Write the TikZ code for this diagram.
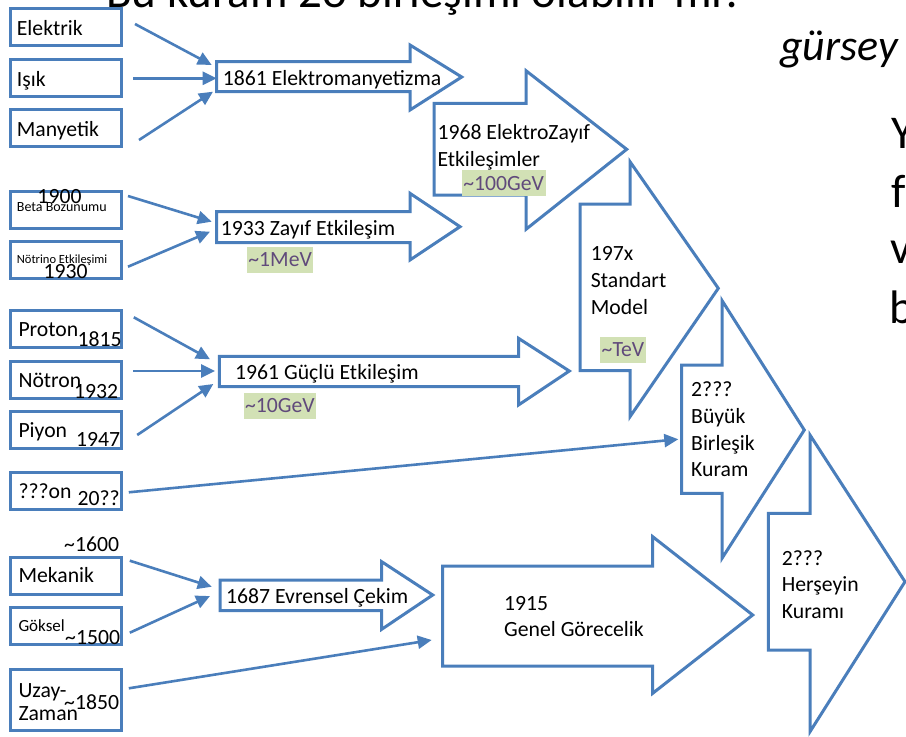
\documentclass[tikz,border=0pt]{standalone}
\usepackage{fontspec}
\setmainfont{Carlito}
\usetikzlibrary{arrows.meta}

\definecolor{lineblue}{HTML}{4A7EBB}
\definecolor{hlgreen}{HTML}{D2E1B5}
\definecolor{hltext}{HTML}{604A7B}

\newcommand{\lbl}{\fontsize{21.7pt}{26pt}\selectfont}
% name, left, top, bottom, head base, head top, head bottom, tip x, tip y
\newcommand{\bigarrow}[9]{%
  \draw[blk] (#2,#3) -- (#5,#3) -- (#5,#6) -- (#8,#9) -- (#5,#7) -- (#5,#4) -- (#2,#4) -- cycle;
  \coordinate (#1) at (#2,{(#3+#4)/2});}

\begin{document}
\begin{tikzpicture}[x=1pt, y=-1pt,
    srcbox/.style={draw=lineblue, line width=3pt, fill=white, minimum width=111pt,
      minimum height=37pt, inner sep=0pt, outer sep=0pt},
    conn/.style={draw=lineblue, line width=2.6pt, -{Triangle[length=14pt,width=13pt]}},
    blk/.style={draw=lineblue, line width=3pt, fill=white},
    txt/.style={anchor=base west, inner sep=0pt, font=\lbl},
    hl/.style={anchor=base west, fill=hlgreen, text=hltext, inner xsep=1.5pt,
      inner ysep=0pt, text height=20pt, text depth=6pt, font=\lbl}]
    \useasboundingbox (0,0) rectangle (906,737);

    % slide text, cut by the frame
    \begin{scope}
        \clip (0,0) rectangle (906,737);
        \node[anchor=base west, inner sep=0pt, font=\fontsize{47pt}{56pt}\selectfont] (title) at (106,7.5) {Bu kuram 2o birleşimi olabilir mi?};
        \node[anchor=base west, inner sep=0pt, font=\fontsize{44pt}{52pt}\selectfont\itshape] (gursey) at (780,60) {gürsey};
        \node[anchor=base west, inner sep=0pt, font=\fontsize{47pt}{56pt}\selectfont] (side1) at (891,148) {Y};
        \node[anchor=base west, inner sep=0pt, font=\fontsize{47pt}{56pt}\selectfont] (side2) at (891,207) {f};
        \node[anchor=base west, inner sep=0pt, font=\fontsize{47pt}{56pt}\selectfont] (side3) at (890,263) {v};
        \node[anchor=base west, inner sep=0pt, font=\fontsize{47pt}{56pt}\selectfont] (side4) at (889,323) {b};
    \end{scope}

    % block arrows
    \bigarrow{em}{216.7}{61.7}{91.7}{410}{45}{110}{461.7}{77}
    \bigarrow{weak}{216.7}{211.7}{242.7}{410}{193.3}{260}{460}{226.7}
    \bigarrow{strong}{219.3}{356.3}{386.7}{518.5}{338.3}{405}{569.3}{371}
    \bigarrow{grav}{220}{580}{610.7}{381.7}{561.7}{629.3}{432.7}{595}
    \bigarrow{ew}{434}{103.3}{195}{526}{70.7}{229.3}{626.7}{149.3}
    \bigarrow{sm}{580}{204}{370.7}{630}{161.7}{416.7}{718.3}{288.3}
    \bigarrow{gut}{681.7}{365}{493.3}{722}{300.5}{558.3}{804.3}{430}
    \bigarrow{gr}{442.7}{566}{666}{652.7}{536.7}{693.3}{752.7}{615}
    \bigarrow{toe}{768.3}{513.3}{650}{810}{435}{731.7}{905}{581.7}

    \node[txt] (t-em) at (222.7,85) {1861 Elektromanyetizma};
    \node[txt] (t-weak) at (220.7,235) {1933 Zayıf Etkileşim};
    \node[txt] (t-strong) at (235,379.3) {1961 Güçlü Etkileşim};
    \node[txt] (t-grav) at (226,603.3) {1687 Evrensel Çekim};
    \node[txt] (t-ew1) at (437.3,139.3) {1968 ElektroZayıf};
    \node[txt] (t-ew2) at (437.3,166.7) {Etkileşimler};
    \node[txt] (t-sm1) at (590.7,260.7) {197x};
    \node[txt] (t-sm2) at (590.7,287.3) {Standart};
    \node[txt] (t-sm3) at (590.7,314.3) {Model};
    \node[txt] (t-gut1) at (691,396.7) {2???};
    \node[txt] (t-gut2) at (691,423.3) {Büyük};
    \node[txt] (t-gut3) at (691,450) {Birleşik};
    \node[txt] (t-gut4) at (691,476.7) {Kuram};
    \node[txt] (t-toe1) at (781.7,565) {2???};
    \node[txt] (t-toe2) at (781.7,591.7) {Herşeyin};
    \node[txt] (t-toe3) at (781.7,618.3) {Kuramı};
    \node[txt] (t-gr1) at (504,610) {1915};
    \node[txt] (t-gr2) at (504,636.7) {Genel Görecelik};

    \node[hl] (e-ew) at (461.7,190) {\textasciitilde 100GeV};
    \node[hl] (e-weak) at (246.7,266.7) {\textasciitilde 1MeV};
    \node[hl] (e-sm) at (600,356.7) {\textasciitilde TeV};
    \node[hl] (e-strong) at (243.3,412.7) {\textasciitilde 10GeV};

    % left boxes
    \node[srcbox] (elektrik) at (65.5,27.3) {};
    \node[srcbox] (isik) at (65.5,78.3) {};
    \node[srcbox] (manyetik) at (65.5,128) {};
    \node[srcbox] (beta) at (65.5,210) {};
    \node[srcbox] (notrino) at (65.5,260) {};
    \node[srcbox] (proton) at (66,329.2) {};
    \node[srcbox] (notron) at (66,379.7) {};
    \node[srcbox] (piyon) at (66,430.3) {};
    \node[srcbox] (qon) at (66,491.3) {};
    \node[srcbox] (mekanik) at (66,575.5) {};
    \node[srcbox] (goksel) at (66,625.5) {};
    \node[srcbox, minimum height=60.4pt] (uzay) at (66,700) {};

    \node[txt] (l-elektrik) at (16.7,35.7) {Elektrik};
    \node[txt] (l-isik) at (16.7,86) {Işık};
    \node[txt] (l-manyetik) at (16.7,136.7) {Manyetik};
    \node[txt] (y-beta) at (37.3,203) {1900};
    \node[txt, font=\fontsize{14pt}{16pt}\selectfont] (l-beta) at (16.7,211.7) {Beta Bozunumu};
    \node[txt, font=\fontsize{12.5pt}{15pt}\selectfont] (l-notrino) at (16.7,263.3) {Nötrino Etkileşimi};
    \node[txt] (y-notrino) at (43.3,278.3) {1930};
    \node[txt] (l-proton) at (18.3,336.7) {Proton};
    \node[txt] (y-proton) at (77.3,346.7) {1815};
    \node[txt] (l-notron) at (18.3,387.3) {Nötron};
    \node[txt] (y-notron) at (74,398.3) {1932};
    \node[txt] (l-piyon) at (18.3,437.3) {Piyon};
    \node[txt] (y-piyon) at (76,446.7) {1947};
    \node[txt] (l-qon) at (18.3,498.3) {???on};
    \node[txt] (y-qon) at (77.3,505) {20??};
    \node[txt] (y-mekanik) at (64,551.7) {\textasciitilde 1600};
    \node[txt] (l-mekanik) at (18.3,582.7) {Mekanik};
    \node[txt, font=\fontsize{17pt}{20pt}\selectfont] (l-goksel) at (18.3,631.7) {Göksel};
    \node[txt] (y-goksel) at (65,644) {\textasciitilde 1500};
    \node[txt] (l-uzay1) at (18.3,697.3) {Uzay-};
    \node[txt] (l-uzay2) at (18.3,720) {Zaman};
    \node[txt] (y-uzay) at (64,709.3) {\textasciitilde 1850};

    % connectors
    \draw[conn] ([xshift=14pt,yshift=3.3pt]elektrik.east) -- ([xshift=-5pt,yshift=11.7pt]em);
    \draw[conn] ([xshift=12pt]isik.east) -- ([yshift=-1.6pt]em);
    \draw[conn] ([xshift=18pt,yshift=-12pt]manyetik.east) -- ([xshift=-3.7pt,yshift=-15pt]em);
    \draw[conn] ([xshift=7pt,yshift=14pt]beta.east) -- ([xshift=-5pt,yshift=5.5pt]weak);
    \draw[conn] ([xshift=7pt,yshift=-6.7pt]notrino.east) -- ([xshift=-6.7pt,yshift=-4.5pt]weak);
    \draw[conn] ([xshift=12.3pt,yshift=11.9pt]proton.east) -- ([xshift=-9.3pt,yshift=12.2pt]strong);
    \draw[conn] ([xshift=11.7pt,yshift=8.7pt]notron.east) -- ([xshift=-4.3pt,yshift=0.5pt]strong);
    \draw[conn] ([xshift=15.7pt,yshift=-4.7pt]piyon.east) -- ([xshift=-6pt,yshift=-12.5pt]strong);
    \draw[conn] ([xshift=7.3pt,yshift=-1pt]qon.east) -- ([xshift=-3.4pt,yshift=-10.1pt]gut);
    \draw[conn] ([xshift=8.3pt,yshift=14.8pt]mekanik.east) -- ([xshift=-8.3pt,yshift=8.6pt]grav);
    \draw[conn] ([xshift=8.3pt,yshift=-7.2pt]goksel.east) -- ([xshift=-10pt,yshift=-0.7pt]grav);
    \draw[conn] ([xshift=7.3pt,yshift=11.7pt]uzay.east) -- ([xshift=-11pt,yshift=-24pt]gr);
\end{tikzpicture}
\end{document}
